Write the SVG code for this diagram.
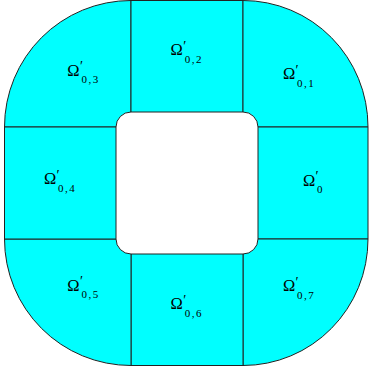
<svg xmlns="http://www.w3.org/2000/svg" width="369" height="370" viewBox="0 0 369 370">
<style>
.r{fill:#00ffff;stroke:#222;stroke-width:1;stroke-linejoin:round}
.t{font-family:"Liberation Serif","Times New Roman",serif;font-size:16.5px;fill:#000}
.s{font-size:11px;letter-spacing:1.5px}
.p{font-size:14px}
</style>
<rect width="369" height="370" fill="#fff"/>
<g id="regions">
<g id="r03"><path class="r" d="M4.5,127 A126.5,126.5 0 0 1 131,0.5 L131,112 A15,15 0 0 0 116,127 Z"/></g>
<g id="r02"><path class="r" d="M131,0.5 L243,0.5 L243,112 L131,112 Z"/></g>
<g id="r01"><path class="r" d="M243,0.5 A125,126.5 0 0 1 368,127 L258,127 A15,15 0 0 0 243,112 Z"/></g>
<g id="r0"><path class="r" d="M258,127 L368,127 L368,239 L258,239 Z"/></g>
<g id="r07"><path class="r" d="M368,239 A125,126.5 0 0 1 243,365.5 L243,254 A15,15 0 0 0 258,239 Z"/></g>
<g id="r06"><path class="r" d="M131,254 L243,254 L243,365.5 L131,365.5 Z"/></g>
<g id="r05"><path class="r" d="M131,365.5 A126.5,126.5 0 0 1 4.5,239 L116,239 A15,15 0 0 0 131,254 Z"/></g>
<g id="r04"><path class="r" d="M4.5,127 L116,127 L116,239 L4.5,239 Z"/></g>
</g>
<g id="labels">
<text class="t" x="67.3" y="75.7">Ω<tspan class="p" x="80" y="71.2">′</tspan><tspan class="s" x="81.5" y="83.2">0,3</tspan></text>
<text class="t" x="170.6" y="55.3">Ω<tspan class="p" x="183.3" y="50.8">′</tspan><tspan class="s" x="184.8" y="62.8">0,2</tspan></text>
<text class="t" x="282.9" y="79.3">Ω<tspan class="p" x="295.6" y="74.8">′</tspan><tspan class="s" x="297.1" y="86.8">0,1</tspan></text>
<text class="t" x="43.9" y="184">Ω<tspan class="p" x="56.6" y="179.5">′</tspan><tspan class="s" x="58.1" y="191.5">0,4</tspan></text>
<text class="t" x="302.9" y="185.7">Ω<tspan class="p" x="315.6" y="181.2">′</tspan><tspan class="s" x="317.1" y="193.2">0</tspan></text>
<text class="t" x="67.3" y="290.7">Ω<tspan class="p" x="80" y="286.2">′</tspan><tspan class="s" x="81.5" y="298.2">0,5</tspan></text>
<text class="t" x="170.6" y="309">Ω<tspan class="p" x="183.3" y="304.5">′</tspan><tspan class="s" x="184.8" y="316.5">0,6</tspan></text>
<text class="t" x="282.9" y="291.3">Ω<tspan class="p" x="295.6" y="286.8">′</tspan><tspan class="s" x="297.1" y="298.8">0,7</tspan></text>
</g>
</svg>
